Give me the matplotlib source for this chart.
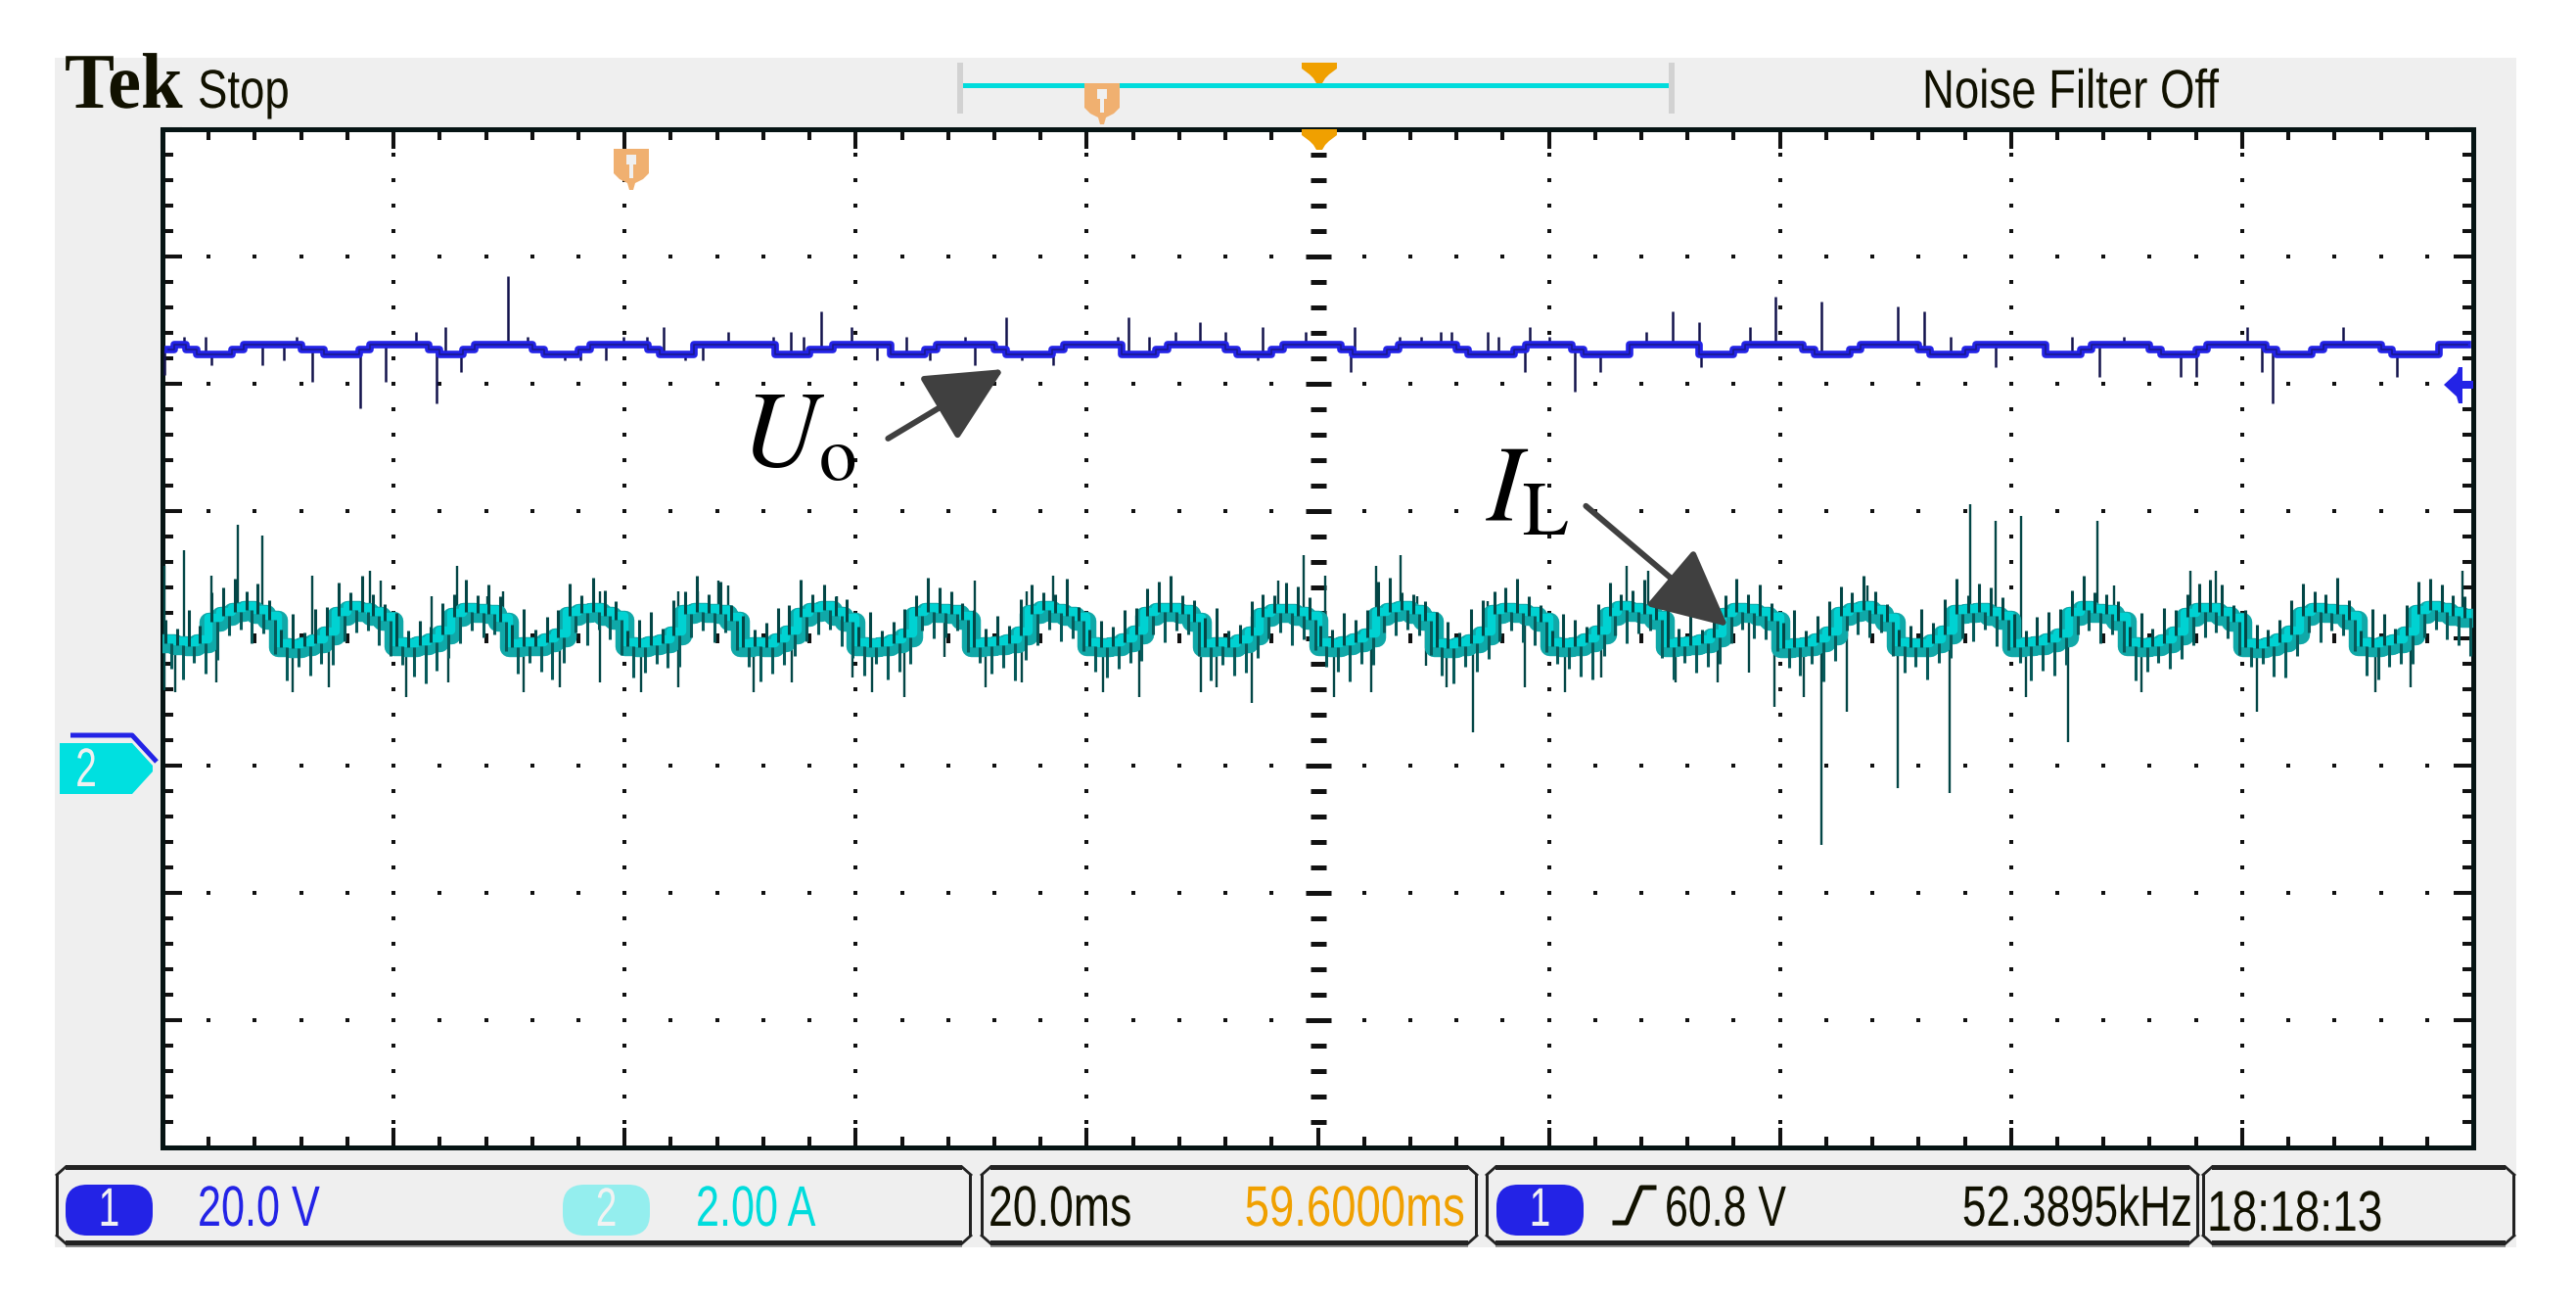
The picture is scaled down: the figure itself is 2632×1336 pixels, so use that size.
import numpy as np
import matplotlib.pyplot as plt
from matplotlib.patches import Rectangle, Polygon, FancyBboxPatch
from matplotlib.patheffects import AbstractPathEffect
from matplotlib.transforms import Affine2D, offset_copy
from matplotlib.ticker import MultipleLocator

plt.rcParams['mathtext.fontset'] = 'stix'

W, H = 2632, 1336
SANS = 'Liberation Sans'

# scope settings (20 ms/div, 10 div wide, 8 div high)
ms_per_div = 20.0
ch1_per_div = 20.0   # V
ch2_per_div = 2.00   # A
gnd_div = -1.0       # both ground markers one div under centre

t_ms = np.arange(200) + 0.5

# channel 1, output voltage, 1 ms samples (V)
ch1_volts = [
    65.4, 66.2, 65.4, 64.6, 64.6, 64.6, 65.4, 66.2, 66.2, 66.2,
    66.2, 66.2, 65.4, 65.4, 64.6, 64.6, 64.6, 65.4, 66.2, 66.2,
    66.2, 66.2, 66.2, 65.4, 64.6, 64.6, 65.4, 66.2, 66.2, 66.2,
    66.2, 66.2, 65.4, 64.6, 64.6, 64.6, 65.4, 66.2, 66.2, 66.2,
    66.2, 66.2, 65.4, 64.6, 64.6, 64.6, 66.2, 66.2, 66.2, 66.2,
    66.2, 66.2, 66.2, 64.6, 64.6, 64.6, 65.4, 65.4, 66.2, 66.2,
    66.2, 66.2, 66.2, 64.6, 64.6, 64.6, 65.4, 66.2, 66.2, 66.2,
    66.2, 66.2, 65.4, 64.6, 64.6, 64.6, 64.6, 65.4, 66.2, 66.2,
    66.2, 66.2, 66.2, 64.6, 64.6, 64.6, 65.4, 66.2, 66.2, 66.2,
    66.2, 66.2, 65.4, 64.6, 64.6, 64.6, 65.4, 66.2, 66.2, 66.2,
    66.2, 66.2, 65.4, 64.6, 64.6, 64.6, 65.4, 66.2, 66.2, 66.2,
    66.2, 66.2, 65.4, 64.6, 64.6, 64.6, 64.6, 65.4, 66.2, 66.2,
    66.2, 66.2, 65.4, 64.6, 64.6, 64.6, 64.6, 66.2, 66.2, 66.2,
    66.2, 66.2, 66.2, 64.6, 64.6, 64.6, 65.4, 66.2, 66.2, 66.2,
    66.2, 66.2, 65.4, 64.6, 64.6, 64.6, 65.4, 66.2, 66.2, 66.2,
    66.2, 66.2, 65.4, 64.6, 64.6, 64.6, 65.4, 66.2, 66.2, 66.2,
    66.2, 66.2, 66.2, 64.6, 64.6, 64.6, 65.4, 66.2, 66.2, 66.2,
    66.2, 66.2, 65.4, 64.6, 64.6, 64.6, 65.4, 66.2, 66.2, 66.2,
    66.2, 66.2, 65.4, 64.6, 64.6, 64.6, 65.4, 66.2, 66.2, 66.2,
    66.2, 66.2, 65.4, 64.6, 64.6, 64.6, 64.6, 66.2, 66.2, 66.2,
]

# channel 2, inductor current, 1 ms samples (A)
ch2_amps = [
    1.92, 1.90, 1.88, 1.92, 2.26, 2.36, 2.42, 2.44, 2.38, 2.30,
    1.86, 1.84, 1.88, 1.92, 2.04, 2.36, 2.44, 2.42, 2.36, 2.28,
    1.88, 1.86, 1.90, 1.94, 2.06, 2.34, 2.42, 2.40, 2.38, 2.26,
    1.86, 1.88, 1.88, 1.94, 2.02, 2.36, 2.40, 2.42, 2.36, 2.30,
    1.88, 1.86, 1.90, 1.92, 2.04, 2.38, 2.42, 2.40, 2.38, 2.28,
    1.86, 1.88, 1.86, 1.94, 2.06, 2.34, 2.42, 2.44, 2.36, 2.26,
    1.88, 1.86, 1.88, 1.92, 2.02, 2.36, 2.42, 2.40, 2.38, 2.30,
    1.86, 1.88, 1.90, 1.92, 2.04, 2.38, 2.44, 2.40, 2.36, 2.28,
    1.88, 1.86, 1.88, 1.94, 2.06, 2.36, 2.42, 2.42, 2.38, 2.26,
    1.86, 1.88, 1.86, 1.92, 2.04, 2.34, 2.40, 2.40, 2.36, 2.30,
    1.88, 1.86, 1.90, 1.94, 2.02, 2.36, 2.42, 2.44, 2.38, 2.28,
    1.86, 1.84, 1.88, 1.92, 2.04, 2.38, 2.42, 2.40, 2.36, 2.26,
    1.88, 1.86, 1.88, 1.94, 2.06, 2.36, 2.44, 2.42, 2.38, 2.30,
    1.86, 1.88, 1.90, 1.92, 2.02, 2.34, 2.42, 2.40, 2.36, 2.28,
    1.84, 1.86, 1.88, 1.94, 2.04, 2.36, 2.42, 2.44, 2.38, 2.26,
    1.88, 1.86, 1.86, 1.92, 2.06, 2.38, 2.40, 2.42, 2.36, 2.30,
    1.86, 1.88, 1.90, 1.94, 2.02, 2.36, 2.44, 2.40, 2.38, 2.28,
    1.88, 1.86, 1.88, 1.92, 2.04, 2.34, 2.42, 2.42, 2.36, 2.26,
    1.86, 1.84, 1.88, 1.94, 2.06, 2.36, 2.42, 2.40, 2.38, 2.30,
    1.88, 1.86, 1.90, 1.92, 2.04, 2.38, 2.44, 2.42, 2.36, 2.32,
]

# per-ms noise extremes of channel 2 (A): highest and lowest hair
ch2_hi = [
    2.30, 2.16, 2.44, 2.20, 2.72, 2.80, 2.94, 2.74, 2.86, 2.60,
    2.14, 2.38, 2.10, 2.46, 2.50, 2.88, 2.72, 2.98, 2.70, 2.54,
    2.40, 2.12, 2.28, 2.18, 2.56, 2.70, 2.92, 2.68, 2.84, 2.66,
    2.22, 2.46, 2.14, 2.34, 2.44, 2.86, 2.68, 2.96, 2.76, 2.58,
    2.12, 2.30, 2.42, 2.16, 2.60, 2.74, 2.98, 2.70, 2.90, 2.52,
    2.36, 2.14, 2.24, 2.48, 2.52, 2.92, 2.70, 2.84, 2.66, 2.62,
    2.18, 2.42, 2.12, 2.26, 2.46, 2.68, 2.96, 2.80, 2.74, 2.56,
    2.44, 2.16, 2.36, 2.20, 2.62, 2.84, 2.72, 2.70, 2.94, 2.50,
    2.14, 2.28, 2.18, 2.44, 2.48, 2.78, 2.90, 2.98, 2.68, 2.60,
    2.32, 2.48, 2.12, 2.22, 2.58, 2.70, 2.68, 2.88, 2.82, 2.64,
    2.20, 2.14, 2.40, 2.30, 2.44, 2.90, 2.96, 2.72, 2.70, 2.58,
    2.42, 2.26, 2.10, 2.46, 2.60, 2.74, 2.80, 2.94, 2.66, 2.52,
    2.12, 2.38, 2.30, 2.18, 2.54, 2.88, 2.70, 2.76, 2.92, 2.62,
    2.46, 2.16, 2.42, 2.14, 2.48, 2.68, 2.94, 2.70, 2.84, 2.56,
    2.24, 2.44, 2.12, 2.36, 2.58, 2.82, 2.72, 2.98, 2.74, 2.54,
    2.14, 2.20, 2.46, 2.24, 2.62, 2.94, 2.68, 2.86, 2.80, 2.64,
    2.38, 2.12, 2.34, 2.42, 2.46, 2.76, 2.98, 2.72, 2.70, 2.58,
    2.18, 2.40, 2.16, 2.48, 2.44, 2.70, 2.86, 2.92, 2.84, 2.52,
    2.44, 2.22, 2.14, 2.30, 2.60, 2.86, 2.74, 2.70, 2.96, 2.60,
    2.12, 2.46, 2.38, 2.16, 2.52, 2.90, 2.94, 2.84, 2.68, 2.66,
]
ch2_lo = [
    1.52, 1.36, 1.62, 1.44, 1.66, 2.04, 2.14, 1.92, 2.08, 1.76,
    1.34, 1.56, 1.42, 1.60, 1.58, 1.96, 2.10, 2.12, 1.90, 1.72,
    1.58, 1.40, 1.30, 1.50, 1.70, 1.92, 2.12, 2.02, 2.06, 1.80,
    1.44, 1.62, 1.48, 1.36, 1.62, 2.10, 1.90, 2.14, 1.98, 1.74,
    1.38, 1.46, 1.60, 1.54, 1.56, 2.02, 2.12, 1.94, 2.10, 1.82,
    1.56, 1.32, 1.44, 1.58, 1.72, 1.96, 2.06, 2.14, 1.88, 1.70,
    1.42, 1.60, 1.36, 1.48, 1.60, 2.12, 2.00, 2.02, 2.12, 1.78,
    1.62, 1.44, 1.54, 1.34, 1.66, 1.90, 2.14, 1.96, 2.00, 1.80,
    1.48, 1.38, 1.52, 1.62, 1.64, 2.06, 1.94, 2.12, 2.06, 1.72,
    1.34, 1.58, 1.42, 1.46, 1.70, 2.00, 2.10, 1.90, 1.98, 1.82,
    1.56, 1.48, 1.32, 1.60, 1.58, 2.10, 2.04, 2.14, 2.04, 1.74,
    1.42, 1.30, 1.56, 1.48, 1.68, 1.96, 2.12, 1.94, 1.90, 1.78,
    1.60, 1.52, 1.40, 1.36, 1.72, 2.04, 1.92, 2.08, 2.12, 1.70,
    1.36, 1.62, 1.46, 1.56, 1.60, 1.92, 2.14, 2.00, 1.98, 1.80,
    1.54, 1.42, 1.60, 1.32, 1.64, 2.12, 2.06, 2.02, 2.10, 1.72,
    1.46, 1.56, 1.36, 1.62, 1.70, 2.00, 1.96, 2.14, 1.88, 1.82,
    1.62, 1.34, 1.50, 1.42, 1.58, 2.06, 2.12, 1.92, 2.06, 1.78,
    1.34, 1.48, 1.62, 1.52, 1.68, 1.90, 2.02, 2.10, 2.00, 1.74,
    1.56, 1.60, 1.40, 1.38, 1.72, 2.10, 1.94, 2.12, 2.04, 1.80,
    1.42, 1.36, 1.56, 1.60, 1.60, 2.02, 2.14, 1.98, 1.90, 1.72,
]

# glitches (time ms, tip value)
ch1_spike_t = [0.2, 1.9, 3.7, 4.2, 8.6, 10.5, 11.6, 13.0, 17.1, 19.3, 21.9, 23.7, 24.5, 25.8, 29.9,
               31.6, 34.8, 36.2, 38.4, 39.9, 41.9, 43.4, 45.2, 46.8, 49.0, 52.9, 54.4, 55.5, 57.0, 59.6,
               61.8, 64.4, 66.4, 69.5, 70.3, 73.0, 74.4, 77.1, 82.7, 83.6, 85.4, 87.7, 89.8, 92.0, 94.8,
               95.2, 98.9, 102.8, 103.2, 107.1, 108.9, 110.6, 111.6, 114.7, 115.6, 117.9, 118.3, 120.0,
               122.2, 124.4, 128.4, 130.7, 133.0, 133.2, 137.4, 139.6, 143.6, 150.2, 152.5, 154.8, 158.7,
               165.3, 167.6, 169.8, 174.7, 176.0, 180.4, 181.7, 182.6, 188.7, 193.4]
ch1_spike_v = [61.4, 67.4, 67.4, 62.9, 62.9, 63.7, 67.4, 60.3, 56.2, 60.3, 68.2, 56.9, 68.9, 61.8, 76.9,
               67.4, 63.7, 63.7, 63.7, 67.4, 67.4, 68.9, 63.7, 63.7, 68.2, 67.4, 68.2, 67.4, 71.4, 68.9,
               63.7, 67.4, 63.7, 67.4, 62.9, 70.5, 63.7, 62.9, 67.4, 70.5, 67.4, 68.2, 69.7, 68.2, 63.7,
               68.9, 68.2, 61.8, 68.9, 67.4, 67.4, 68.2, 68.2, 68.2, 67.4, 61.8, 68.9, 67.4,
               58.8, 61.8, 68.2, 71.4, 69.7, 62.6, 68.9, 73.7, 72.9, 72.2, 71.4, 67.4, 62.6,
               67.4, 61.1, 67.4, 61.1, 61.1, 68.9, 61.8, 56.9, 68.9, 61.1]

ch2_spike_t = [0.2, 0.2, 1.1, 1.9, 4.2, 4.7, 6.5, 8.6, 11.3, 13.0, 14.4, 18.0, 18.9, 21.1, 23.3,
               24.7, 25.5, 28.1, 29.5, 31.3, 34.4, 37.9, 37.9, 41.4, 44.6, 44.6, 46.3, 48.1, 49.0, 51.2,
               54.5, 58.4, 59.7, 61.4, 64.2, 67.7, 70.3, 71.2, 74.4, 74.8, 77.1, 81.4, 84.5, 89.9, 91.2,
               94.3, 96.6, 98.8, 100.6, 101.4, 104.6, 105.0, 107.2, 108.6, 109.4, 111.1, 113.4, 114.7,
               117.9, 121.4, 126.7, 128.6, 139.5, 143.6, 145.8, 147.6, 150.2, 154.7, 156.5, 158.7,
               160.9, 161.3, 164.9, 167.5, 168.9, 171.3, 175.5, 177.7, 181.3, 191.5, 194.6, 199.1,
               124.5, 131.0, 134.6, 137.3, 142.1]
ch2_spike_a = [3.14, 1.19, 1.15, 3.38, 2.98, 1.31, 3.78, 3.62, 1.15, 2.98, 1.23, 3.06, 2.91, 1.08, 2.66,
               1.31, 3.14, 2.66, 2.74, 1.15, 1.23, 2.74, 1.31, 1.15, 2.74, 1.23, 2.74, 2.91, 2.83, 1.15,
               1.31, 2.66, 1.38, 1.15, 1.08, 1.71, 2.91, 1.23, 1.31, 2.74, 2.98, 1.15, 1.08, 1.15, 1.23,
               0.98, 2.91, 3.31, 2.98, 1.08, 1.15, 3.14, 3.31, 2.66, 1.57, 1.23, 0.52, 2.58,
               1.23, 1.15, 3.14, 3.06, 0.92, -1.25, 0.85, 2.83, -0.35, -0.43, 4.11, 3.85,
               3.92, 1.08, 0.37, 3.85, 2.83, 1.15, 3.06, 3.06, 0.85, 1.15, 1.23, 3.06,
               1.38, 1.31, 1.31, 1.46, 1.08]

# readouts
ch1_scale = '20.0 V'
ch2_scale = '2.00 A'
time_scale = '20.0ms'
trig_pos = '59.6000ms'
trig_level = '60.8 V'
trig_freq = '52.3895kHz'
clock = '18:18:13'

BLUE = '#2323e6'
NAVY = '#12124c'
CYAN = '#00dcdc'
DARKTEAL = '#034646'
ORANGE = '#f0a000'
TORANGE = '#f0b070'
INK = '#111100'


class Squeeze(AbstractPathEffect):
    """narrow the glyphs horizontally around a pixel column (scope font is condensed)"""

    def __init__(self, sx, pivot):
        super().__init__()
        self.sx = sx
        self.pivot = pivot

    def draw_path(self, renderer, gc, tpath, affine, rgbFace=None):
        squeeze = Affine2D().translate(-self.pivot, 0).scale(self.sx, 1).translate(self.pivot, 0)
        renderer.draw_path(gc, tpath, affine + squeeze, rgbFace)


fig = plt.figure(figsize=(W / 100, H / 100), dpi=100)

# background / screen furniture in pixel coordinates
bg = fig.add_axes([0, 0, 1, 1])
bg.set_xlim(0, W)
bg.set_ylim(H, 0)
bg.axis('off')
bg.add_patch(Rectangle((56, 59), 2571 - 56, 1274 - 59, color='#efefef', lw=0))


def scope_text(x, y, s, color=INK, size=42, sx=0.76, ha='left', family=SANS, **kw):
    bg.text(x, y, s, family=family, fontsize=size, color=color, ha=ha,
            path_effects=[Squeeze(sx, x)], **kw)


scope_text(66, 110, 'Tek', family='Liberation Serif', weight='bold', size=58, sx=0.95)
scope_text(202, 110, 'Stop', size=40, sx=0.82)
scope_text(1964, 110, 'Noise Filter Off', size=40, sx=0.82)

# record bar at the top
bg.add_patch(Rectangle((983, 85), 1707 - 983, 5, color=CYAN, lw=0))
for bx, sgn in [(978, 1), (1711, -1)]:
    bg.add_patch(Rectangle((min(bx, bx - 6 * (sgn < 0)), 64), 6, 52, color='#d2d2d2', lw=0))
    bg.add_patch(Rectangle((min(bx, bx + 6 * sgn), 64), 6, 5, color='#d2d2d2', lw=0))
    bg.add_patch(Rectangle((min(bx, bx + 6 * sgn), 111), 6, 5, color='#d2d2d2', lw=0))


def t_marker(axis, x, y, zorder=3):
    # orange "T" trigger point marker, x = left, y = top
    pts = [(0, 0), (36, 0), (36, 25), (30, 31), (22, 35), (20, 42), (16, 42), (14, 35), (6, 31), (0, 25)]
    axis.add_patch(Polygon([(x + a, y + b) for a, b in pts], closed=True, color=TORANGE, lw=0, zorder=zorder))
    axis.add_patch(Rectangle((x + 13, y + 6), 10, 10, color='#f0f0f0', lw=0, zorder=zorder))
    axis.add_patch(Rectangle((x + 16, y + 16), 4, 14, color='#f0f0f0', lw=0, zorder=zorder))


def down_marker(axis, x, y, zorder=3):
    pts = [(0, 0), (36, 0), (36, 6), (28, 12), (24, 16), (21, 21), (15, 21), (12, 16), (8, 12), (0, 6)]
    axis.add_patch(Polygon([(x + a, y + b) for a, b in pts], closed=True, color=ORANGE, lw=0, zorder=zorder))


t_marker(bg, 1108, 85)
down_marker(bg, 1330, 64)

# readout boxes at the bottom
boxes = [(57, 993), (1002, 1510), (1518, 2247), (2250, 2570)]
for xl, xr in boxes:
    bg.add_patch(Rectangle((xl + 10, 1190), xr - xl - 20, 5, color='#222222', lw=0))
    bg.add_patch(Rectangle((xl + 10, 1267), xr - xl - 20, 5, color='#222222', lw=0))
    bg.add_patch(Rectangle((xl + 10, 1272), xr - xl - 20, 2, color='#8a8a8a', lw=0))
    bg.add_patch(Rectangle((xl, 1200), 3, 62, color='#222222', lw=0))
    bg.add_patch(Rectangle((xr - 3, 1200), 3, 62, color='#222222', lw=0))
    bg.plot([xl + 1, xl + 10], [1200, 1192], color='#222222', lw=2)
    bg.plot([xl + 1, xl + 10], [1262, 1270], color='#222222', lw=2)
    bg.plot([xr - 1, xr - 10], [1200, 1192], color='#222222', lw=2)
    bg.plot([xr - 1, xr - 10], [1262, 1270], color='#222222', lw=2)

for x, lab, col in [(67, '1', BLUE), (575, '2', '#94eeee'), (1529, '1', BLUE)]:
    bg.add_patch(FancyBboxPatch((x, 1210), 89, 52, boxstyle='round,pad=0,rounding_size=22',
                                color=col, lw=0))
    scope_text(x + 44.5, 1252, lab, color='#f2f2f2', size=40, sx=0.7, ha='center')

scope_text(202, 1252, ch1_scale, color=BLUE, sx=0.74)
scope_text(711, 1252, ch2_scale, color=CYAN, sx=0.74)
scope_text(1010, 1252, time_scale, sx=0.765)
scope_text(1497, 1252, trig_pos, color=ORANGE, sx=0.78, ha='right')
bg.plot([1650, 1662, 1677, 1690], [1249, 1249, 1213, 1213], color=INK, lw=3.6)
scope_text(1701, 1252, trig_level, sx=0.735)
scope_text(2240, 1252, trig_freq, sx=0.755, ha='right')
scope_text(2255, 1257, clock, sx=0.79)

# ch2 ground marker on the left edge
bg.add_patch(Polygon([(61, 759), (135, 759), (156, 782), (156, 788), (135, 811), (61, 811)],
                     closed=True, color='#00e0e0', lw=0))
scope_text(88, 803, '2', color='#f0f0f0', size=40, sx=0.7, ha='center')
bg.plot([72, 135, 160], [751, 751, 778], color=BLUE, lw=3.6, solid_capstyle='butt')

# graticule area
x0, x1, y0, y1 = 166, 2527, 132, 1172
ax = fig.add_axes([x0 / W, 1 - y1 / H, (x1 - x0) / W, (y1 - y0) / H])
ax.set_xlim(0, 10 * ms_per_div)
ax.set_ylim(-4, 4)
ax.set_facecolor('white')
for s in ax.spines.values():
    s.set_linewidth(3.6)
    s.set_color('#061414')
ax.xaxis.set_major_locator(MultipleLocator(ms_per_div))
ax.xaxis.set_minor_locator(MultipleLocator(ms_per_div / 5))
ax.yaxis.set_major_locator(MultipleLocator(1))
ax.yaxis.set_minor_locator(MultipleLocator(0.2))
ax.tick_params(which='both', direction='in', top=True, right=True, bottom=True, left=True,
               labelbottom=False, labelleft=False, color='#111111', width=2.9)
ax.tick_params(which='major', length=14.4)
ax.tick_params(which='minor', length=7.6)

dot_y = np.arange(-3.8, 3.81, 0.2)
dot_x = np.arange(4, 197, 4)
for gx in np.arange(20, 200, 20):
    if gx == 100:
        continue
    ax.plot(np.full(dot_y.size, gx), dot_y, ls='none', marker='s', ms=3, mew=0, color='#111111', zorder=1)
for gy in np.arange(-3, 4, 1):
    if gy == 0:
        continue
    ax.plot(dot_x, np.full(dot_x.size, gy), ls='none', marker='s', ms=3, mew=0, color='#111111', zorder=1)

# centre cross with ticks
minor_y = dot_y[np.abs(dot_y - np.round(dot_y)) > 0.05]
major_y = np.arange(-3, 4, 1)
ax.plot(np.full(minor_y.size, 100), minor_y, ls='none', marker='_', ms=11.5, mew=3.6, color='#111111', zorder=1)
ax.plot(np.full(major_y.size, 100), major_y, ls='none', marker='_', ms=18.7, mew=3.6, color='#111111', zorder=1)
minor_x = dot_x[dot_x % 20 != 0]
major_x = np.arange(20, 200, 20)
ax.plot(minor_x, np.zeros(minor_x.size), ls='none', marker='|', ms=7.2, mew=2.9, color='#111111', zorder=1)
ax.plot(major_x, np.zeros(major_x.size), ls='none', marker='|', ms=14.4, mew=2.9, color='#111111', zorder=1)


def to_div(vals, per_div):
    return np.asarray(vals, dtype=float) / per_div + gnd_div


# channel 2 (inductor current)
ch2_y = to_div(ch2_amps, ch2_per_div)
sp2_base = to_div([ch2_amps[min(int(t), 199)] for t in ch2_spike_t], ch2_per_div)
ax.vlines(ch2_spike_t, sp2_base, to_div(ch2_spike_a, ch2_per_div), color=DARKTEAL, lw=1.7, zorder=3)
ax.plot(t_ms, ch2_y, drawstyle='steps-mid', color='#10a8a8', lw=14, zorder=4)
lifted = offset_copy(ax.transData, fig=fig, x=0, y=4, units='dots')
ax.plot(t_ms, ch2_y, drawstyle='steps-mid', color='#00d2d2', lw=6, zorder=4.1, transform=lifted)
ax.vlines(t_ms - 0.25, ch2_y, to_div(ch2_hi, ch2_per_div), color=DARKTEAL, lw=2.2, zorder=4.3)
ax.vlines(t_ms + 0.25, ch2_y, to_div(ch2_lo, ch2_per_div), color='#075a5a', lw=2.2, zorder=4.3)

# channel 1 (output voltage)
ch1_y = to_div(ch1_volts, ch1_per_div)
sp1_base = to_div([ch1_volts[min(int(t), 199)] for t in ch1_spike_t], ch1_per_div)
ax.vlines(ch1_spike_t, sp1_base, to_div(ch1_spike_v, ch1_per_div), color=NAVY, lw=1.8, zorder=3)
ax.plot(t_ms, ch1_y, drawstyle='steps-mid', color=BLUE, lw=5.5, zorder=4)
ax.plot(t_ms, ch1_y, drawstyle='steps-mid', color='#1a1a90', lw=1.2, zorder=4.1)

# annotations
ax.text(50.1, 1.34, r'$U_{\mathrm{o}}$', fontsize=79, color='black', va='baseline', zorder=6)
ax.text(114.5, 0.92, r'$I_{\mathrm{L}}$', fontsize=79, color='black', va='baseline', zorder=6)
arrow = dict(arrowstyle='-|>,head_length=49,head_width=24', mutation_scale=1,
             color='#404040', lw=4.3, shrinkA=0, shrinkB=0)
ax.annotate('', xy=(72.8, 2.115), xytext=(62.8, 1.57), arrowprops=arrow, zorder=6)
ax.annotate('', xy=(135.5, 0.092), xytext=(123.2, 1.04), arrowprops=arrow, zorder=6)

# markers drawn over the graticule
fg = fig.add_axes([0, 0, 1, 1], zorder=5)
fg.set_xlim(0, W)
fg.set_ylim(H, 0)
fg.axis('off')
t_marker(fg, 627, 152)
down_marker(fg, 1330, 132)
fg.add_patch(Polygon([(2497, 393), (2510, 381), (2512, 375), (2516, 375), (2516, 389), (2527, 389),
                      (2527, 397), (2516, 397), (2516, 412), (2512, 412), (2510, 405)],
                     closed=True, color=BLUE, lw=0))

fig.savefig('out.png', dpi=100)
